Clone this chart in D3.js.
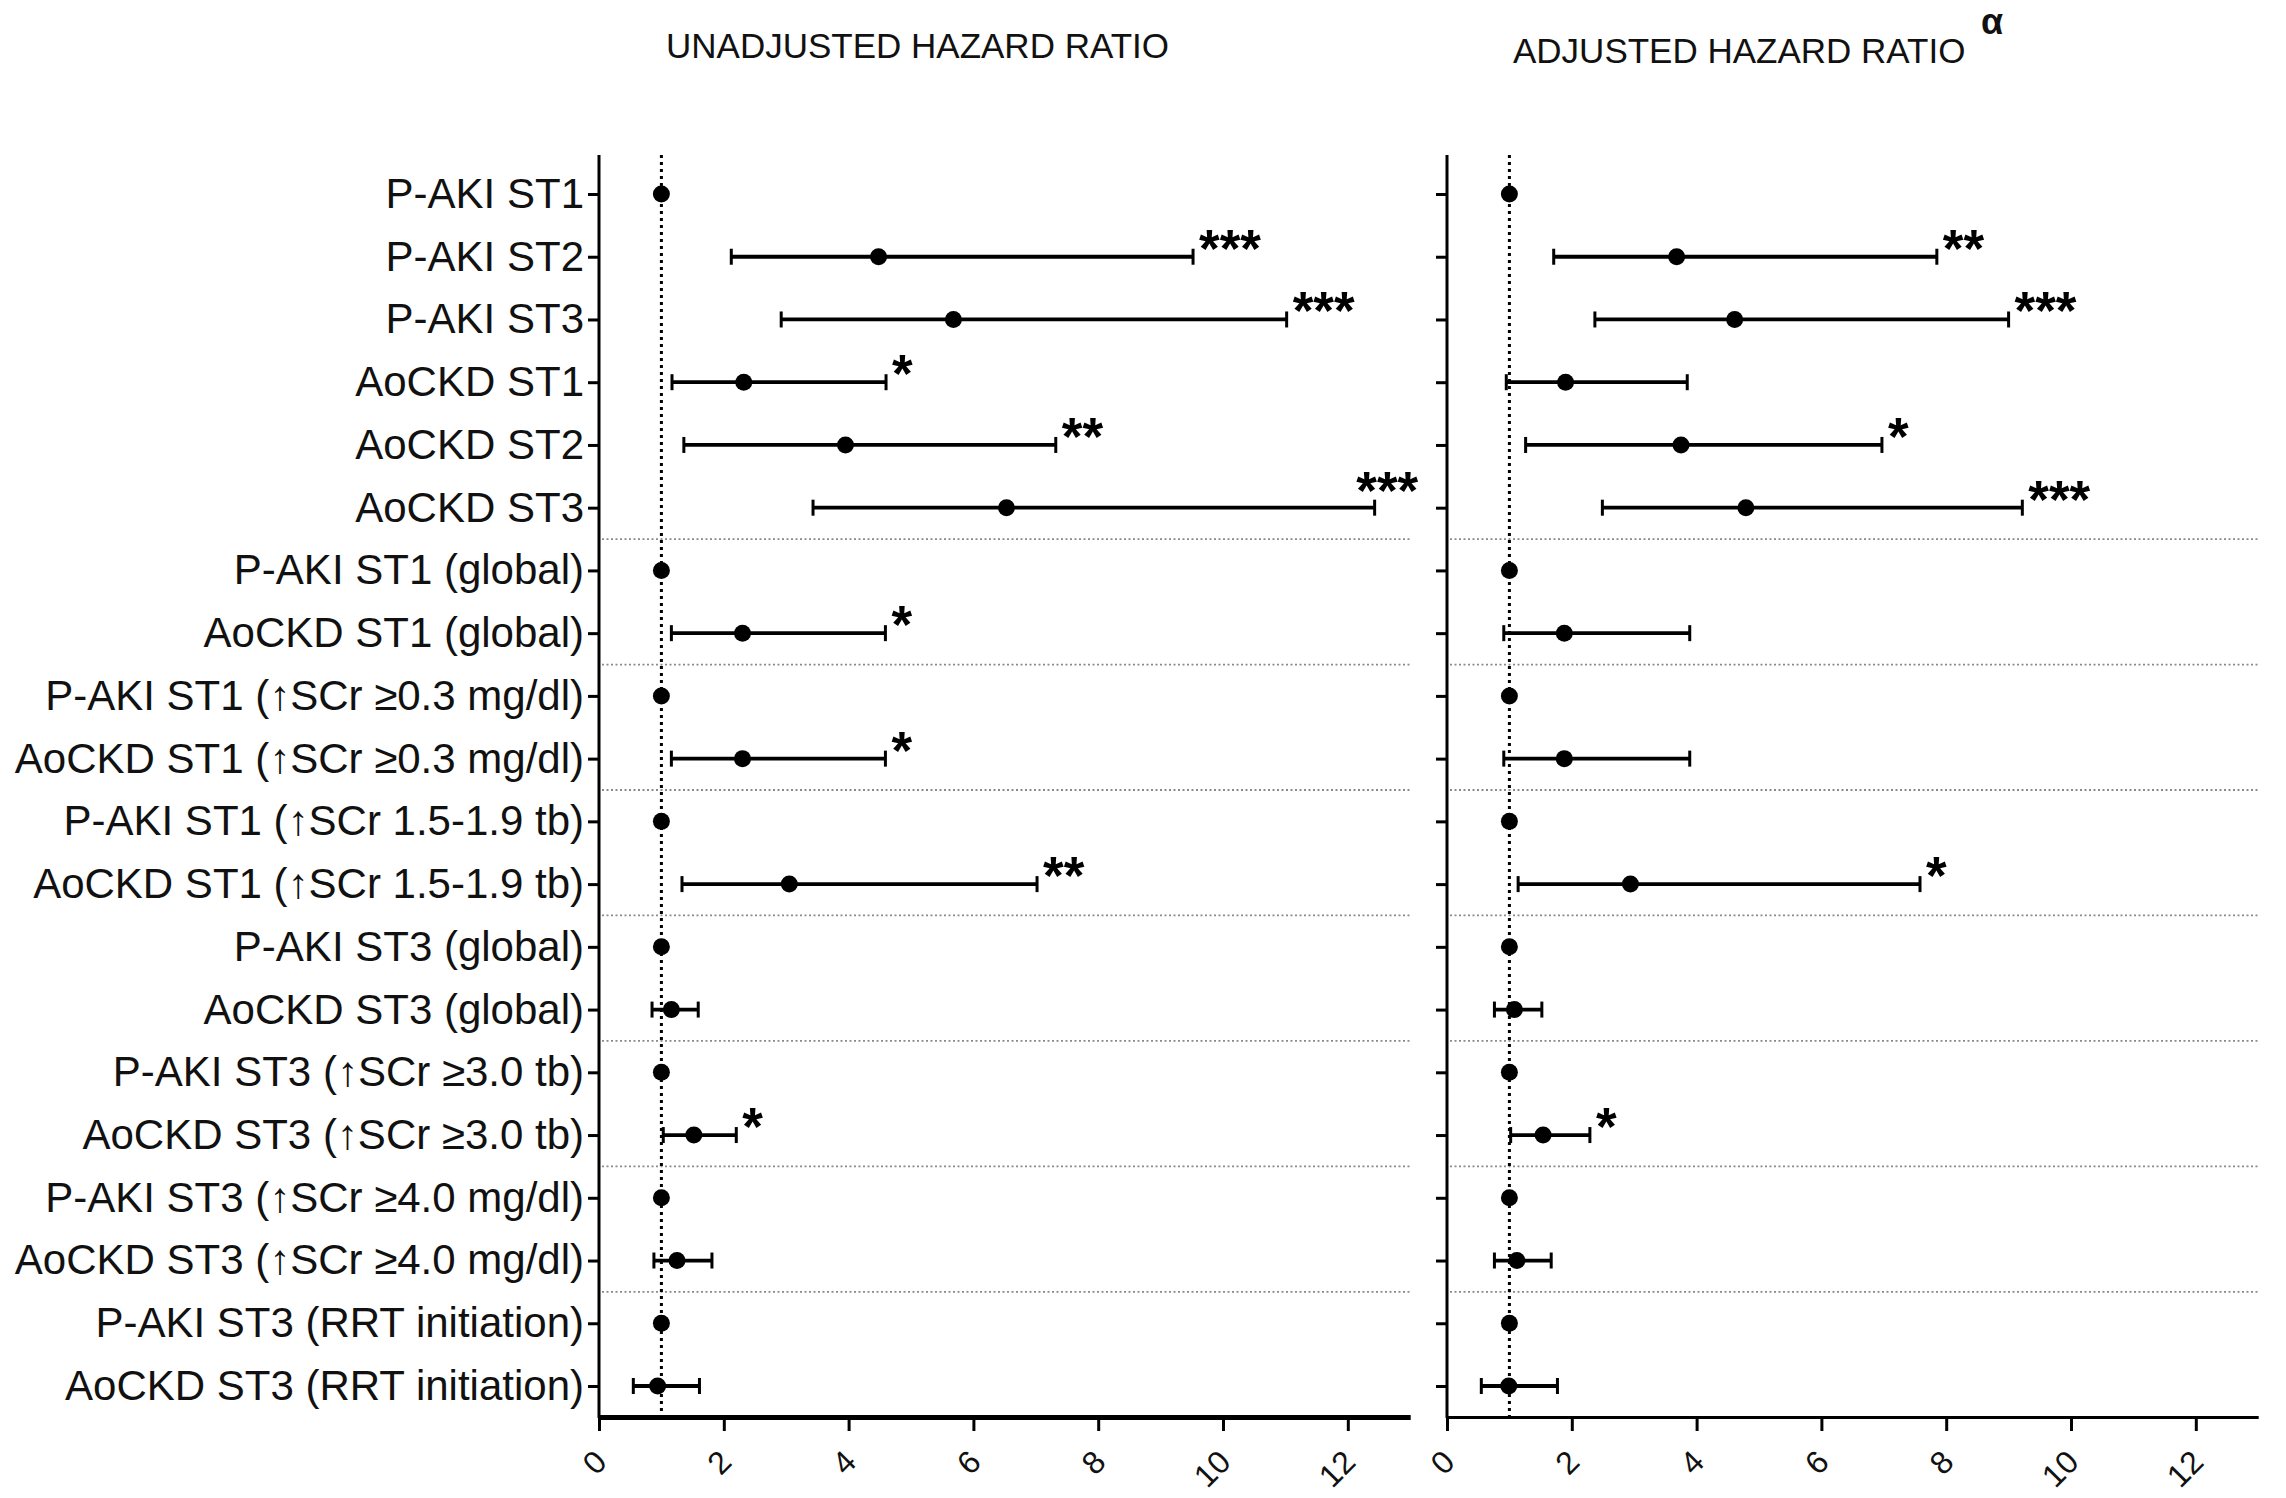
<!DOCTYPE html>
<html>
<head>
<meta charset="utf-8">
<script src="https://cdn.jsdelivr.net/npm/d3@7"></script>
<style>
    body { margin: 0; background: #fff; }
    svg { display: block; font-family: "Liberation Sans", Arial, sans-serif; }
</style>
</head>
<body>
<svg id="chart" width="2286" height="1498"></svg>
<script>
const labels = [
    "P-AKI ST1", "P-AKI ST2", "P-AKI ST3", "AoCKD ST1", "AoCKD ST2", "AoCKD ST3",
    "P-AKI ST1 (global)", "AoCKD ST1 (global)",
    "P-AKI ST1 (↑SCr ≥0.3 mg/dl)", "AoCKD ST1 (↑SCr ≥0.3 mg/dl)",
    "P-AKI ST1 (↑SCr 1.5-1.9 tb)", "AoCKD ST1 (↑SCr 1.5-1.9 tb)",
    "P-AKI ST3 (global)", "AoCKD ST3 (global)",
    "P-AKI ST3 (↑SCr ≥3.0 tb)", "AoCKD ST3 (↑SCr ≥3.0 tb)",
    "P-AKI ST3 (↑SCr ≥4.0 mg/dl)", "AoCKD ST3 (↑SCr ≥4.0 mg/dl)",
    "P-AKI ST3 (RRT initiation)", "AoCKD ST3 (RRT initiation)"
];

// unadjusted hazard ratios
const unadjHR = [1, 4.48, 5.68, 2.32, 3.95, 6.53, 1, 2.30, 1, 2.30, 1, 3.05, 1, 1.16, 1, 1.52, 1, 1.25, 1, 0.94];
const unadjLo = [null, 2.12, 2.92, 1.17, 1.36, 3.43, null, 1.16, null, 1.16, null, 1.33, null, 0.85, null, 1.03, null, 0.88, null, 0.55];
const unadjHi = [null, 9.52, 11.02, 4.60, 7.32, 12.43, null, 4.59, null, 4.59, null, 7.02, null, 1.59, null, 2.20, null, 1.81, null, 1.61];
const unadjSig = ["", "***", "***", "*", "**", "***", "", "*", "", "*", "", "**", "", "", "", "*", "", "", "", ""];

// adjusted hazard ratios
const adjHR = [1, 3.68, 4.61, 1.90, 3.75, 4.79, 1, 1.88, 1, 1.88, 1, 2.94, 1, 1.08, 1, 1.54, 1, 1.12, 1, 0.99];
const adjLo = [null, 1.71, 2.37, 0.95, 1.26, 2.49, null, 0.91, null, 0.91, null, 1.14, null, 0.76, null, 1.02, null, 0.76, null, 0.55];
const adjHi = [null, 7.85, 9.00, 3.85, 6.97, 9.22, null, 3.89, null, 3.89, null, 7.58, null, 1.52, null, 2.29, null, 1.67, null, 1.77];
const adjSig = ["", "**", "***", "", "*", "***", "", "", "", "", "", "*", "", "", "", "*", "", "", "", ""];

const xTicks = [0, 2, 4, 6, 8, 10, 12];
const groupEnds = [5, 7, 9, 11, 13, 15, 17];

const svg = d3.select("#chart");
const plotTop = 155, plotBottom = 1417;

const y = d3.scalePoint().domain(labels).range([194, 1386]);

function panel(x0, x1, hr, lo, hi, sig, showLabels, axisWidth) {
    const x = d3.scaleLinear().domain([0, 13]).range([x0, x1]);
    const g = svg.append("g");
    const rows = labels.map((l, i) => ({ label: l, hr: hr[i], lo: lo[i], hi: hi[i], sig: sig[i] }));

    // group separators
    g.selectAll(".sep")
        .data(groupEnds)
        .join("line")
        .attr("x1", x0 + 3).attr("x2", x1)
        .attr("y1", d => (y(labels[d]) + y(labels[d + 1])) / 2)
        .attr("y2", d => (y(labels[d]) + y(labels[d + 1])) / 2)
        .attr("stroke", "#8a8a8a").attr("stroke-width", 1.8)
        .attr("stroke-dasharray", "2,2.5");

    // reference line at HR = 1
    g.append("line")
        .attr("x1", x(1)).attr("x2", x(1))
        .attr("y1", plotTop).attr("y2", plotBottom)
        .attr("stroke", "#000").attr("stroke-width", 3)
        .attr("stroke-dasharray", "3,4");

    // y axis
    const yAxis = d3.axisLeft(y).tickSize(11).tickPadding(4)
        .tickFormat(showLabels ? (d => d) : "");
    g.append("g")
        .attr("transform", `translate(${x0},0)`)
        .call(yAxis)
        .call(a => a.select(".domain").remove())
        .call(a => a.selectAll(".tick line").attr("stroke", "#000").attr("stroke-width", 3))
        .call(a => a.selectAll(".tick text").attr("fill", "#111").attr("font-size", 42)
            .attr("font-family", "'Liberation Sans', Arial, sans-serif"));
    g.append("line")
        .attr("x1", x0).attr("x2", x0).attr("y1", plotTop).attr("y2", plotBottom + 1)
        .attr("stroke", "#000").attr("stroke-width", 3);

    // x axis
    g.append("g")
        .attr("transform", `translate(0,${plotBottom})`)
        .call(d3.axisBottom(x).tickValues(xTicks).tickSize(14).tickSizeOuter(0))
        .call(a => a.select(".domain").attr("stroke", "#000").attr("stroke-width", axisWidth))
        .call(a => a.selectAll(".tick line").attr("stroke", "#000").attr("stroke-width", 3))
        .call(a => a.selectAll(".tick text")
            .attr("fill", "#111").attr("font-size", 32)
            .attr("font-family", "'Liberation Sans', Arial, sans-serif")
            .attr("text-anchor", "end")
            .attr("dy", null).attr("y", 0)
            .attr("transform", "translate(9,47) rotate(-45)"));

    // confidence intervals
    const ci = rows.filter(d => d.lo != null);
    g.selectAll(".ci")
        .data(ci)
        .join("line")
        .attr("x1", d => x(d.lo)).attr("x2", d => x(d.hi))
        .attr("y1", d => y(d.label)).attr("y2", d => y(d.label))
        .attr("stroke", "#000").attr("stroke-width", 3.8);
    g.selectAll(".capL")
        .data(ci)
        .join("line")
        .attr("x1", d => x(d.lo)).attr("x2", d => x(d.lo))
        .attr("y1", d => y(d.label) - 8).attr("y2", d => y(d.label) + 8)
        .attr("stroke", "#000").attr("stroke-width", 3);
    g.selectAll(".capR")
        .data(ci)
        .join("line")
        .attr("x1", d => x(d.hi)).attr("x2", d => x(d.hi))
        .attr("y1", d => y(d.label) - 8).attr("y2", d => y(d.label) + 8)
        .attr("stroke", "#000").attr("stroke-width", 3);

    // point estimates
    g.selectAll(".pt")
        .data(rows)
        .join("circle")
        .attr("cx", d => x(d.hr)).attr("cy", d => y(d.label))
        .attr("r", 8.5).attr("fill", "#000");

    // significance stars
    g.selectAll(".sig")
        .data(rows.filter(d => d.sig))
        .join("text")
        .attr("font-size", 53).attr("font-weight", "bold").attr("fill", "#000")
        .text(d => d.sig)
        .each(function (d) {
            const w = this.getComputedTextLength();
            let sx = x(d.hi) + 6, sy = y(d.label) + 10;
            if (sx + w > x1 + 16) { sx = x1 + 8 - w; sy -= 9; }
            d3.select(this).attr("x", sx).attr("y", sy);
        });
}

panel(599, 1410.2, unadjHR, unadjLo, unadjHi, unadjSig, true, 5);
panel(1447, 2258.2, adjHR, adjLo, adjHi, adjSig, false, 3);

// titles
svg.append("text")
    .attr("x", 666).attr("y", 58)
    .attr("font-size", 35).attr("fill", "#111")
    .text("UNADJUSTED HAZARD RATIO");
svg.append("text")
    .attr("x", 1513).attr("y", 63)
    .attr("font-size", 35).attr("fill", "#111")
    .text("ADJUSTED HAZARD RATIO");
svg.append("text")
    .attr("x", 1981).attr("y", 34)
    .attr("font-size", 36).attr("font-weight", "bold").attr("fill", "#111")
    .text("α");
</script>
</body>
</html>
